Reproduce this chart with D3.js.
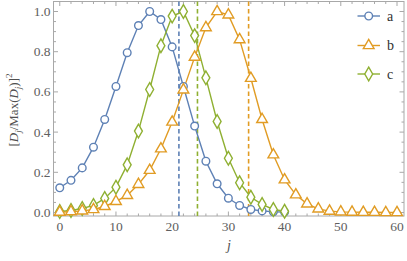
<!DOCTYPE html>
<html><head><meta charset="utf-8">
<script src="https://cdn.jsdelivr.net/npm/d3@7"></script>
<style>
body{margin:0;background:#fff;}
</style></head>
<body><svg id="c" width="407" height="261" font-family="'Liberation Serif', 'Times New Roman', serif"></svg>
<script>
const seriesNames = ["a","b","c"];
const colors = ["#5E81B5","#E19C24","#8FB032"];
const jA = d3.range(0, 41, 2);
const valsA = [0.123,0.16,0.222,0.325,0.463,0.627,0.795,0.93,1.0,0.96,0.824,0.627,0.43,0.255,0.143,0.071,0.035,0.015,0.008,0.004,0.002];
const jB = d3.range(0, 61, 2);
const valsB = [0.002,0.004,0.008,0.015,0.03,0.055,0.085,0.14,0.21,0.317,0.45,0.61,0.773,0.92,1.0,0.983,0.86,0.668,0.463,0.287,0.163,0.088,0.043,0.018,0.007,0.003,0.002,0.001,0.001,0.0,0.0];
const jC = d3.range(0, 41, 2);
const valsC = [0.005,0.01,0.02,0.035,0.07,0.126,0.237,0.405,0.612,0.83,0.977,1.0,0.88,0.67,0.453,0.27,0.148,0.076,0.04,0.015,0.006];
const meanLines = [21.2, 33.6, 24.5];
const xTicks = [0,10,20,30,40,50,60];
const yTicks = [0,0.2,0.4,0.6,0.8,1.0];

const svg = d3.select("#c");
const x = d3.scaleLinear().domain([0,60]).range([59.75,397]);
const y = d3.scaleLinear().domain([0,1]).range([212.5,11.5]);
const L = 53.5, R = 404, T = 1.5, B = 216;

// frame
svg.append("rect").attr("x",L).attr("y",T).attr("width",R-L).attr("height",B-T)
  .attr("fill","none").attr("stroke","#a8a8a8").attr("stroke-width",1);

// ticks
const xMinor = d3.range(0,61,2).filter(v=>v%10!==0);
const yMinor = d3.range(0,1.0001,0.05).filter(v=>Math.abs(v*5-Math.round(v*5))>1e-6);
const tk = svg.append("g").attr("stroke","#a8a8a8").attr("stroke-width",1);
xTicks.forEach(v=>{
  tk.append("line").attr("x1",x(v)).attr("x2",x(v)).attr("y1",B).attr("y2",B-4.5);
  tk.append("line").attr("x1",x(v)).attr("x2",x(v)).attr("y1",T).attr("y2",T+4.5);
});
xMinor.forEach(v=>{
  tk.append("line").attr("x1",x(v)).attr("x2",x(v)).attr("y1",B).attr("y2",B-2.5);
  tk.append("line").attr("x1",x(v)).attr("x2",x(v)).attr("y1",T).attr("y2",T+2.5);
});
yTicks.forEach(v=>{
  tk.append("line").attr("y1",y(v)).attr("y2",y(v)).attr("x1",L).attr("x2",L+4.5);
  tk.append("line").attr("y1",y(v)).attr("y2",y(v)).attr("x1",R).attr("x2",R-4.5);
});
yMinor.forEach(v=>{
  tk.append("line").attr("y1",y(v)).attr("y2",y(v)).attr("x1",L).attr("x2",L+2.5);
  tk.append("line").attr("y1",y(v)).attr("y2",y(v)).attr("x1",R).attr("x2",R-2.5);
});

// tick labels
const fs = 13.5;
xTicks.forEach(v=>{
  svg.append("text").attr("x",x(v)).attr("y",B+15).attr("text-anchor","middle")
    .attr("font-size",fs).attr("fill","#606060").text(v);
});
yTicks.forEach(v=>{
  svg.append("text").attr("x",L-3).attr("y",y(v)+4.5).attr("text-anchor","end")
    .attr("font-size",fs).attr("fill","#606060").text(v.toFixed(1));
});

// axis labels
svg.append("text").attr("x",229).attr("y",250).attr("text-anchor","middle")
  .attr("font-size",14).attr("font-style","italic").attr("fill","#505050").text("j");
const yl = svg.append("text").attr("transform","translate(18,110) rotate(-90)")
  .attr("text-anchor","middle").attr("font-size",13).attr("fill","#505050");
yl.append("tspan").text("[");
yl.append("tspan").attr("font-style","italic").text("D");
yl.append("tspan").attr("font-style","italic").attr("font-size",9).attr("dy",3).text("j");
yl.append("tspan").attr("dy",-3).text("/Max(");
yl.append("tspan").attr("font-style","italic").text("D");
yl.append("tspan").attr("font-style","italic").attr("font-size",9).attr("dy",3).text("j");
yl.append("tspan").attr("dy",-3).text(")]");
yl.append("tspan").attr("font-size",9).attr("dy",-6).text("2");

// dashed mean lines
meanLines.forEach((m,i)=>{
  svg.append("line").attr("x1",x(m)).attr("x2",x(m)).attr("y1",B).attr("y2",T)
    .attr("stroke",colors[i]).attr("stroke-width",1.6).attr("stroke-dasharray","4.5,3");
});

const data = [jA.map((j,i)=>[j,valsA[i]]), jB.map((j,i)=>[j,valsB[i]]), jC.map((j,i)=>[j,valsC[i]])];
const symbols = [d3.symbolCircle, d3.symbolTriangle, d3.symbolDiamond];
const sizes = [46, 50, 54];
const line = d3.line().x(d=>x(d[0])).y(d=>y(d[1]));

function marker(g, i, cx, cy){
  const s = d3.symbol().type(symbols[i]).size(sizes[i]);
  g.append("path").attr("d",s()).attr("transform",`translate(${cx},${cy})`)
    .attr("fill","#fff").attr("stroke",colors[i]).attr("stroke-width",1.4);
}

[0,2,1].forEach(i=>{
  svg.append("path").datum(data[i]).attr("d",line).attr("fill","none")
    .attr("stroke",colors[i]).attr("stroke-width",1.4);
});
[0,2,1].forEach(i=>{
  const g = svg.append("g");
  data[i].forEach(d=>marker(g,i,x(d[0]),y(d[1])));
});

// legend
const ly = [16,45.5,74];
seriesNames.forEach((n,i)=>{
  svg.append("line").attr("x1",357.5).attr("x2",380).attr("y1",ly[i]).attr("y2",ly[i])
    .attr("stroke",colors[i]).attr("stroke-width",1.4);
  marker(svg,i,368.7,ly[i]);
  svg.append("text").attr("x",387).attr("y",ly[i]+4.5).attr("font-size",14)
    .attr("fill","#303030").text(n);
});
</script></body></html>
